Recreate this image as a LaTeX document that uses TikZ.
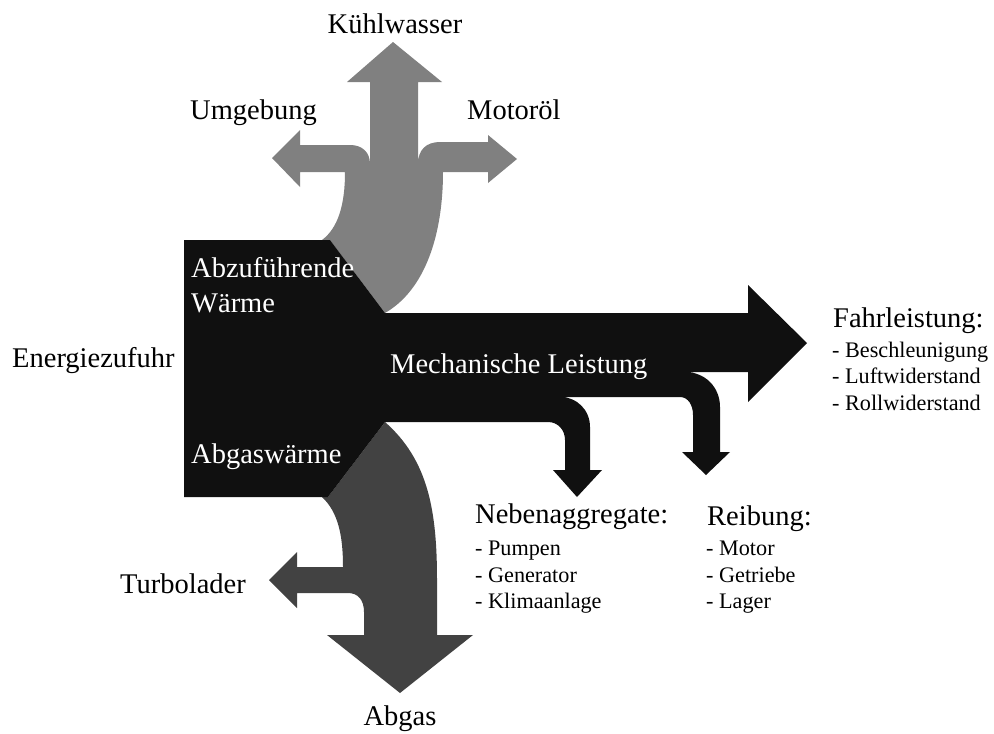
\documentclass[tikz,border=0pt]{standalone}
\usepackage{fontspec}
\setmainfont{Liberation Serif}
\usepackage{tikz}
\definecolor{mechblack}{HTML}{101010}
\definecolor{heatgray}{HTML}{808080}
\definecolor{exhaustgray}{HTML}{424242}
\tikzstyle{bigtxt} = [inner sep=0pt, text=black, font=\fontsize{28.5}{34}\selectfont]
\tikzstyle{whitetxt} = [inner sep=0pt, text=white, font=\fontsize{28.5}{34}\selectfont]
\tikzstyle{smalltxt} = [inner sep=0pt, anchor=base west, text=black, font=\fontsize{22.2}{26}\selectfont]
\newcommand{\itm}[1]{- #1}

\begin{document}
\begin{tikzpicture}[x=1pt, y=-1pt]
\useasboundingbox (0,0) rectangle (994,734);
% abzufuehrende Waerme
\fill[heatgray] (330,240) -- (385,313) .. controls (425,290) and (443,235) .. (443,172)
  -- (488,172) -- (488,183) -- (517,159) -- (488,135) -- (488,142) -- (440,142)
  .. controls (426,142) and (418,150) .. (418,164) -- (418,82) -- (442,82) -- (393,42)
  -- (347,82) -- (370,82) -- (370,164) .. controls (370,152) and (362,145) .. (350,145)
  -- (300,145) -- (300,130) -- (272,158) -- (300,187) -- (300,172) -- (345,172)
  .. controls (345,205) and (338,228) .. (322,240) -- cycle;
% Abgaswaerme
\fill[exhaustgray] (328,497) -- (385,422) .. controls (428,460) and (437,510) .. (437,580)
  -- (437,635) -- (473,635) -- (400,693) -- (327,635) -- (364,635) -- (364,612)
  .. controls (364,600) and (358,593) .. (348,593) -- (297,593) -- (297,608) -- (269,580)
  -- (297,552) -- (297,567) -- (343,567) .. controls (343,535) and (338,512) .. (322,497) -- cycle;
% Energiezufuhr und mechanische Leistung
\fill[mechblack] (184,240) -- (330,240) -- (385,313) -- (748,313) -- (748,285) -- (807,343)
  -- (748,402) -- (748,372) -- (685,372) .. controls (705,372) and (720,387) .. (720,407)
  -- (720,452) -- (730,452) -- (706,475) -- (682,452) -- (693,452) -- (693,415)
  .. controls (693,405) and (688,397) .. (680,397) -- (560,397)
  .. controls (577,397) and (590,410) .. (590,427) -- (590,470) -- (602,470) -- (577,497)
  -- (553,470) -- (565,470) -- (565,440) .. controls (565,430) and (558,422) .. (548,422)
  -- (385,422) -- (328,497) -- (184,497) -- cycle;

\node[bigtxt, anchor=base] (kuehl) at (395,33) {Kühlwasser};
\node[bigtxt, anchor=base west] (umgeb) at (190,119) {Umgebung};
\node[bigtxt, anchor=base west] (oel) at (467,119) {Motoröl};
\node[whitetxt, anchor=base west] (abzu) at (191,277) {Abzuführende};
\node[whitetxt, anchor=base west] (waerme) at (191,312) {Wärme};
\node[bigtxt, anchor=base west] (zufuhr) at (12,367) {Energiezufuhr};
\node[whitetxt, anchor=base west] (mech) at (390,373) {Mechanische Leistung};
\node[whitetxt, anchor=base west] (abgw) at (191,463) {Abgaswärme};
\node[bigtxt, anchor=base] (turbo) at (183,593) {Turbolader};
\node[bigtxt, anchor=base] (abgas) at (400,725) {Abgas};

\node[bigtxt, anchor=base west] (fahr) at (833,327) {Fahrleistung:};
\node[smalltxt] (fahra) at (832,357) {\itm{Beschleunigung}};
\node[smalltxt] (fahrb) at (832,383) {\itm{Luftwiderstand}};
\node[smalltxt] (fahrc) at (832,410) {\itm{Rollwiderstand}};

\node[bigtxt, anchor=base west] (neben) at (475,523) {Nebenaggregate:};
\node[smalltxt] (nebena) at (475,555) {\itm{Pumpen}};
\node[smalltxt] (nebenb) at (475,582) {\itm{Generator}};
\node[smalltxt] (nebenc) at (475,608) {\itm{Klimaanlage}};

\node[bigtxt, anchor=base west] (reib) at (707,525) {Reibung:};
\node[smalltxt] (reiba) at (706,555) {\itm{Motor}};
\node[smalltxt] (reibb) at (706,582) {\itm{Getriebe}};
\node[smalltxt] (reibc) at (706,608) {\itm{Lager}};
\end{tikzpicture}
\end{document}
